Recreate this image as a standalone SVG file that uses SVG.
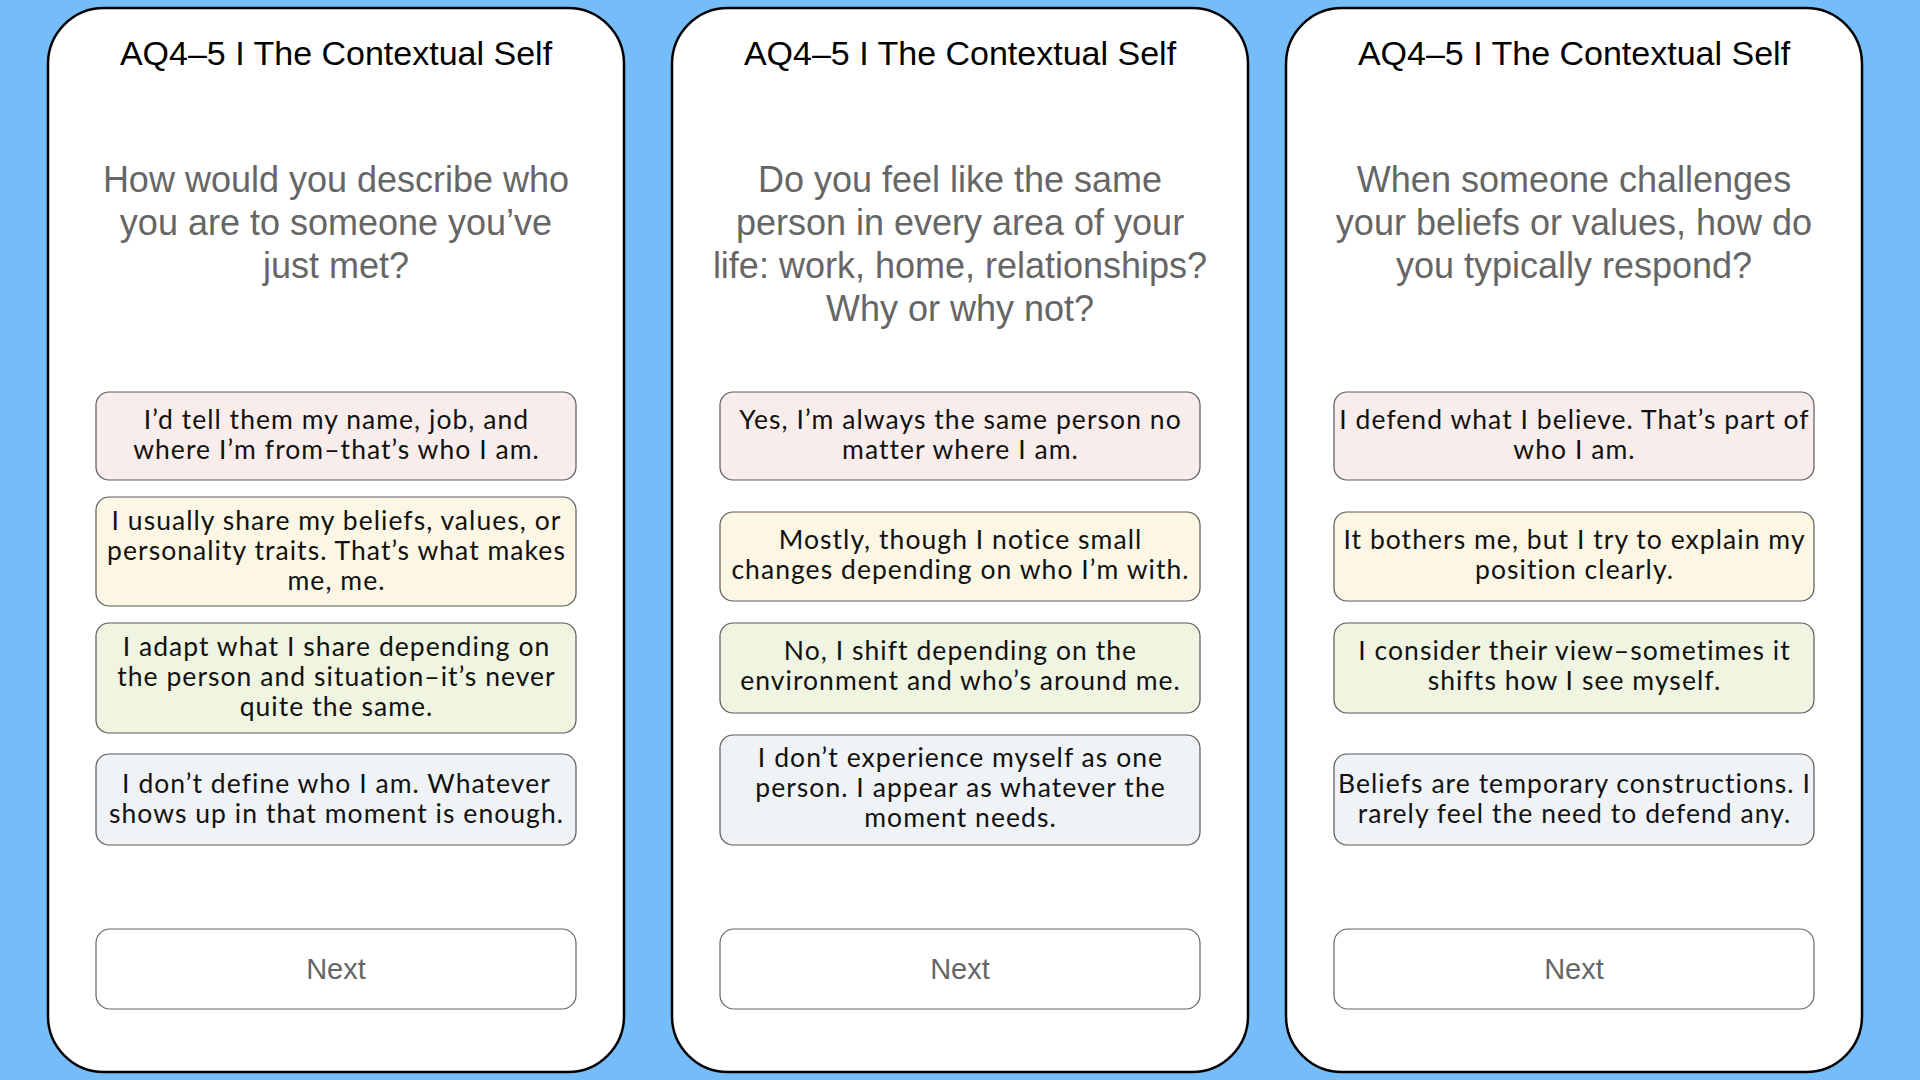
<svg xmlns="http://www.w3.org/2000/svg" width="1920" height="1080" viewBox="0 0 1920 1080">
<style>
.bg{fill:#74BDF8}
.card{fill:#FFFFFF;stroke:#000000;stroke-width:2.5}
.title{font-family:"Liberation Sans",Arial,sans-serif;font-size:34px;fill:#000000;text-anchor:middle}
.q{font-family:"Liberation Sans",Arial,sans-serif;font-size:36px;fill:#666666;text-anchor:middle}
.opt{stroke:#5a5a5a;stroke-width:1.2}
.o1{fill:#F8EDEA}
.o2{fill:#FCF6E4}
.o3{fill:#F0F5E2}
.o4{fill:#F0F3F6}
.ot{font-family:Lato,"Noto Sans",sans-serif;font-size:26.5px;letter-spacing:1.05px;fill:#111111;text-anchor:middle}
.btn{fill:#FFFFFF;stroke:#666666;stroke-width:1.2}
.bt{font-family:"Liberation Sans",Arial,sans-serif;font-size:29px;fill:#666666;text-anchor:middle}
</style>
<rect class="bg" x="0" y="0" width="1920" height="1080"/>
<g id="connectors"/>

<g id="card1">
<rect class="card" x="48" y="8" width="576" height="1064" rx="56" ry="56"/>
<text class="title" x="336" y="65">AQ4–5 I The Contextual Self</text>
<text class="q" x="336" y="192">How would you describe who</text>
<text class="q" x="336" y="235">you are to someone you’ve</text>
<text class="q" x="336" y="278">just met?</text>
<g id="card1-opt1"><rect class="opt o1" x="96" y="392" width="480" height="88" rx="13"/>
<text class="ot" x="336.5" y="429">I’d tell them my name, job, and</text>
<text class="ot" x="336.5" y="459">where I’m from–that’s who I am.</text></g>
<g id="card1-opt2"><rect class="opt o2" x="96" y="497" width="480" height="109" rx="13"/>
<text class="ot" x="336.5" y="530">I usually share my beliefs, values, or</text>
<text class="ot" x="336.5" y="560">personality traits. That’s what makes</text>
<text class="ot" x="336.5" y="590">me, me.</text></g>
<g id="card1-opt3"><rect class="opt o3" x="96" y="623" width="480" height="110" rx="13"/>
<text class="ot" x="336.5" y="656">I adapt what I share depending on</text>
<text class="ot" x="336.5" y="686">the person and situation–it’s never</text>
<text class="ot" x="336.5" y="716">quite the same.</text></g>
<g id="card1-opt4"><rect class="opt o4" x="96" y="754" width="480" height="91" rx="13"/>
<text class="ot" x="336.5" y="793">I don’t define who I am. Whatever</text>
<text class="ot" x="336.5" y="823">shows up in that moment is enough.</text></g>
<g id="card1-next"><rect class="btn" x="96" y="929" width="480" height="80" rx="14"/>
<text class="bt" x="336" y="979">Next</text></g>
</g>

<g id="card2">
<rect class="card" x="672" y="8" width="576" height="1064" rx="56" ry="56"/>
<text class="title" x="960" y="65">AQ4–5 I The Contextual Self</text>
<text class="q" x="960" y="192">Do you feel like the same</text>
<text class="q" x="960" y="235">person in every area of your</text>
<text class="q" x="960" y="278">life: work, home, relationships?</text>
<text class="q" x="960" y="321">Why or why not?</text>
<g id="card2-opt1"><rect class="opt o1" x="720" y="392" width="480" height="88" rx="13"/>
<text class="ot" x="960.5" y="429">Yes, I’m always the same person no</text>
<text class="ot" x="960.5" y="459">matter where I am.</text></g>
<g id="card2-opt2"><rect class="opt o2" x="720" y="512" width="480" height="89" rx="13"/>
<text class="ot" x="960.5" y="549">Mostly, though I notice small</text>
<text class="ot" x="960.5" y="579">changes depending on who I’m with.</text></g>
<g id="card2-opt3"><rect class="opt o3" x="720" y="623" width="480" height="90" rx="13"/>
<text class="ot" x="960.5" y="660">No, I shift depending on the</text>
<text class="ot" x="960.5" y="690">environment and who’s around me.</text></g>
<g id="card2-opt4"><rect class="opt o4" x="720" y="735" width="480" height="110" rx="13"/>
<text class="ot" x="960.5" y="767">I don’t experience myself as one</text>
<text class="ot" x="960.5" y="797">person. I appear as whatever the</text>
<text class="ot" x="960.5" y="827">moment needs.</text></g>
<g id="card2-next"><rect class="btn" x="720" y="929" width="480" height="80" rx="14"/>
<text class="bt" x="960" y="979">Next</text></g>
</g>

<g id="card3">
<rect class="card" x="1286" y="8" width="576" height="1064" rx="56" ry="56"/>
<text class="title" x="1574" y="65">AQ4–5 I The Contextual Self</text>
<text class="q" x="1574" y="192">When someone challenges</text>
<text class="q" x="1574" y="235">your beliefs or values, how do</text>
<text class="q" x="1574" y="278">you typically respond?</text>
<g id="card3-opt1"><rect class="opt o1" x="1334" y="392" width="480" height="88" rx="13"/>
<text class="ot" x="1574.5" y="429">I defend what I believe. That’s part of</text>
<text class="ot" x="1574.5" y="459">who I am.</text></g>
<g id="card3-opt2"><rect class="opt o2" x="1334" y="512" width="480" height="89" rx="13"/>
<text class="ot" x="1574.5" y="549">It bothers me, but I try to explain my</text>
<text class="ot" x="1574.5" y="579">position clearly.</text></g>
<g id="card3-opt3"><rect class="opt o3" x="1334" y="623" width="480" height="90" rx="13"/>
<text class="ot" x="1574.5" y="660">I consider their view–sometimes it</text>
<text class="ot" x="1574.5" y="690">shifts how I see myself.</text></g>
<g id="card3-opt4"><rect class="opt o4" x="1334" y="754" width="480" height="91" rx="13"/>
<text class="ot" x="1574.5" y="793">Beliefs are temporary constructions. I</text>
<text class="ot" x="1574.5" y="823">rarely feel the need to defend any.</text></g>
<g id="card3-next"><rect class="btn" x="1334" y="929" width="480" height="80" rx="14"/>
<text class="bt" x="1574" y="979">Next</text></g>
</g>
</svg>
